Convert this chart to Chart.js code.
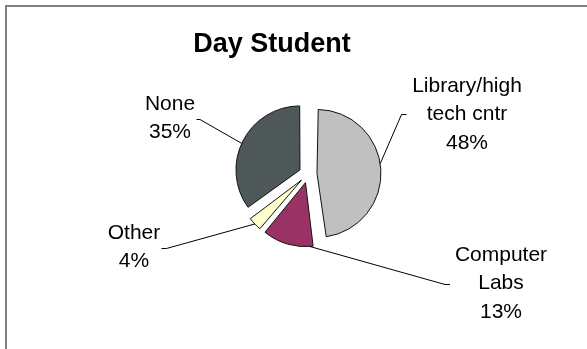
<!DOCTYPE html>
<html>
<head>
<meta charset="utf-8">
<title>Day Student</title>
<script src="https://cdn.jsdelivr.net/npm/chart.js@4.4.1/dist/chart.umd.min.js"></script>
<style>
    html, body { margin: 0; padding: 0; background: #fff; }
    #frame { position: relative; width: 587px; height: 349px; overflow: hidden; }
    #edge {
        position: absolute; left: 5px; top: 5px; right: -10px; bottom: -10px;
        border-top: 2px solid #808080; border-left: 2px solid #808080;
    }
    #pie { position: absolute; left: 0; top: 0; }
</style>
</head>
<body>
<div id="frame">
    <div id="edge"></div>
    <canvas id="pie" width="587" height="349"></canvas>
</div>
<script>
// Where day students get computer access (share of answers, %)
var categories = [['Library/high', 'tech cntr'], ['Computer', 'Labs'], ['Other'], ['None']];
var shares = [48, 13, 4, 35];
var sliceColors = ['#c0c0c0', '#993366', '#ffffcc', '#4f5858'];

var pieRadius = 64;
var sliceGap = 9;    // how far every slice is pulled out from the centre
var lineStep = 28.4; // distance between label lines
var labelFont = '21px "Liberation Sans", Arial, sans-serif';

// label text centre + first baseline, leader line start and elbow,
// and where the leader meets the slice edge (0 = start of arc, 1 = end)
var labelSpots = [
    { x: 467, y: 92, from: [406.5, 114.5], elbow: [401.5, 114.5], along: 0.47 },
    { x: 501, y: 261, from: [450, 284.5], elbow: [445, 284.5], along: 0.07 },
    { x: 134, y: 239, from: [161.5, 248.5], elbow: [166.5, 248.5], along: 0.5 },
    { x: 170, y: 109.5, from: [196.5, 119.5], elbow: [200, 119.5], along: 0.48 }
];

var pieLabels = {
    id: 'pieLabels',
    afterDatasetUpdate: function (chart, args) {
        // arc.draw() grows small slices by offset * (1 - sin(circumference)),
        // take that back out so every slice keeps the same radius
        args.meta.data.forEach(function (arc) {
            var fix = 1 - Math.sin(Math.min(Math.PI, arc.circumference));
            arc.outerRadius = pieRadius - sliceGap * fix;
        });
    },
    afterDraw: function (chart) {
        var ctx = chart.ctx;
        var arcs = chart.getDatasetMeta(0).data;
        ctx.save();

        ctx.fillStyle = '#000';
        ctx.textAlign = 'center';
        ctx.textBaseline = 'alphabetic';
        ctx.font = 'bold 27px "Liberation Sans", Arial, sans-serif';
        ctx.fillText('Day Student', 272, 52);

        ctx.font = labelFont;
        ctx.strokeStyle = '#000';
        ctx.lineWidth = 1;
        labelSpots.forEach(function (spot, i) {
            var arc = arcs[i];
            var mid = (arc.startAngle + arc.endAngle) / 2;
            var cx = arc.x + Math.cos(mid) * sliceGap;
            var cy = arc.y + Math.sin(mid) * sliceGap;
            var a = arc.startAngle + (arc.endAngle - arc.startAngle) * spot.along;

            ctx.beginPath();
            ctx.moveTo(spot.from[0], spot.from[1]);
            ctx.lineTo(spot.elbow[0], spot.elbow[1]);
            ctx.lineTo(cx + Math.cos(a) * pieRadius, cy + Math.sin(a) * pieRadius);
            ctx.stroke();

            var lines = categories[i].concat([shares[i] + '%']);
            lines.forEach(function (txt, k) {
                ctx.fillText(txt, spot.x, spot.y + k * lineStep);
            });
        });
        ctx.restore();
    }
};

new Chart(document.getElementById('pie'), {
    type: 'pie',
    data: {
        labels: categories,
        datasets: [{
            data: shares,
            backgroundColor: sliceColors,
            borderColor: '#111',
            borderWidth: 1,
            offset: sliceGap * 4, // ArcElement moves a slice by offset / 4
            hoverOffset: 0,
            radius: pieRadius
        }]
    },
    options: {
        responsive: false,
        animation: false,
        events: [],
        layout: { padding: { left: 60, right: 31, top: 60, bottom: 61 } },
        plugins: {
            legend: { display: false },
            tooltip: { enabled: false },
            title: { display: false }
        }
    },
    plugins: [pieLabels]
});
</script>
</body>
</html>
